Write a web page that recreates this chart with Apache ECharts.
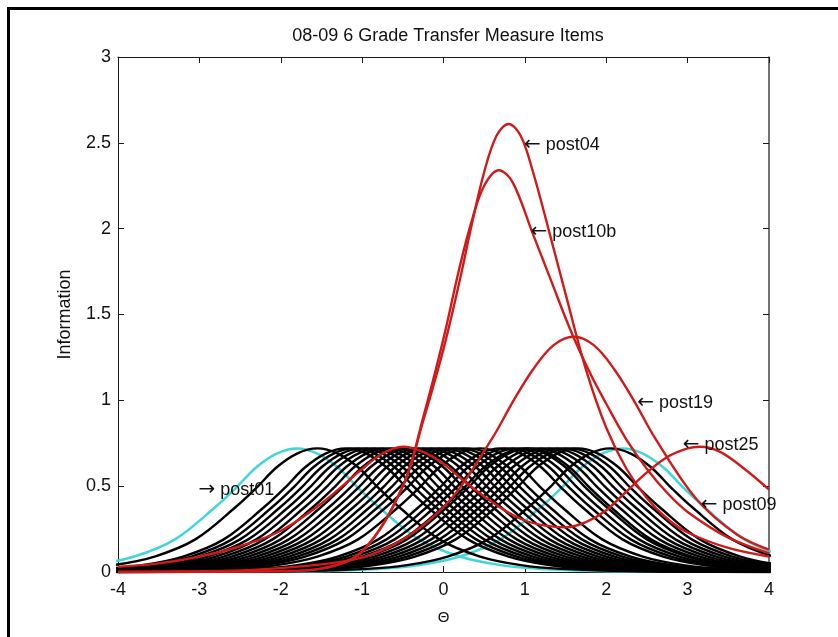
<!DOCTYPE html>
<html>
<head>
<meta charset="utf-8">
<script src="https://cdn.jsdelivr.net/npm/echarts/dist/echarts.min.js"></script>
<style>
html,body{margin:0;padding:0;background:#fff;}
#chart{width:838px;height:637px;}
</style>
</head>
<body>
<div id="chart"></div>
<script>
// ---- Axis ticks ----
const xTicks = [-4, -3, -2, -1, 0, 1, 2, 3, 4];
const yTicks = [0, 0.5, 1, 1.5, 2, 2.5, 3];

// ---- Item information curves, [theta, information] ----
// black items
const black01 = [[-4.05,0.04],[-3.55,0.09],[-3.05,0.19],[-2.55,0.38],[-2.3,0.49],[-2.05,0.61],[-1.8,0.69],[-1.55,0.72],[-1.3,0.69],[-1.05,0.61],[-0.8,0.49],[-0.55,0.38],[-0.05,0.19],[0.45,0.09],[0.95,0.04],[1.45,0.018],[2.45,0.003],[4,0]];
const black02 = [[-4.2,0.018],[-3.7,0.04],[-3.2,0.09],[-2.7,0.19],[-2.2,0.38],[-1.95,0.49],[-1.7,0.61],[-1.45,0.69],[-1.2,0.72],[-0.95,0.69],[-0.7,0.61],[-0.45,0.49],[-0.2,0.38],[0.3,0.19],[0.8,0.09],[1.3,0.04],[1.8,0.018],[2.8,0.003],[4.3,0]];
const black03 = [[-4.1,0.018],[-3.6,0.04],[-3.1,0.09],[-2.6,0.19],[-2.1,0.38],[-1.85,0.49],[-1.6,0.61],[-1.35,0.69],[-1.1,0.72],[-0.85,0.69],[-0.6,0.61],[-0.35,0.49],[-0.1,0.38],[0.4,0.19],[0.9,0.09],[1.4,0.04],[1.9,0.018],[2.9,0.003],[4.4,0]];
const black04 = [[-4,0.018],[-3.5,0.04],[-3,0.09],[-2.5,0.19],[-2,0.38],[-1.75,0.49],[-1.5,0.61],[-1.25,0.69],[-1,0.72],[-0.75,0.69],[-0.5,0.61],[-0.25,0.49],[0,0.38],[0.5,0.19],[1,0.09],[1.5,0.04],[2,0.018],[3,0.003],[4.5,0]];
const black05 = [[-4.9,0.003],[-3.9,0.018],[-3.4,0.04],[-2.9,0.09],[-2.4,0.19],[-1.9,0.38],[-1.65,0.49],[-1.4,0.61],[-1.15,0.69],[-0.9,0.72],[-0.65,0.69],[-0.4,0.61],[-0.15,0.49],[0.1,0.38],[0.6,0.19],[1.1,0.09],[1.6,0.04],[2.1,0.018],[3.1,0.003],[4.6,0]];
const black06 = [[-4.8,0.003],[-3.8,0.018],[-3.3,0.04],[-2.8,0.09],[-2.3,0.19],[-1.8,0.38],[-1.55,0.49],[-1.3,0.61],[-1.05,0.69],[-0.8,0.72],[-0.55,0.69],[-0.3,0.61],[-0.05,0.49],[0.2,0.38],[0.7,0.19],[1.2,0.09],[1.7,0.04],[2.2,0.018],[3.2,0.003],[4.7,0]];
const black07 = [[-4.7,0.003],[-3.7,0.018],[-3.2,0.04],[-2.7,0.09],[-2.2,0.19],[-1.7,0.38],[-1.45,0.49],[-1.2,0.61],[-0.95,0.69],[-0.7,0.72],[-0.45,0.69],[-0.2,0.61],[0.05,0.49],[0.3,0.38],[0.8,0.19],[1.3,0.09],[1.8,0.04],[2.3,0.018],[3.3,0.003],[4.8,0]];
const black08 = [[-4.6,0.003],[-3.6,0.018],[-3.1,0.04],[-2.6,0.09],[-2.1,0.19],[-1.6,0.38],[-1.35,0.49],[-1.1,0.61],[-0.85,0.69],[-0.6,0.72],[-0.35,0.69],[-0.1,0.61],[0.15,0.49],[0.4,0.38],[0.9,0.19],[1.4,0.09],[1.9,0.04],[2.4,0.018],[3.4,0.003],[4.9,0]];
const black09 = [[-4.5,0.003],[-3.5,0.018],[-3,0.04],[-2.5,0.09],[-2,0.19],[-1.5,0.38],[-1.25,0.49],[-1,0.61],[-0.75,0.69],[-0.5,0.72],[-0.25,0.69],[0,0.61],[0.25,0.49],[0.5,0.38],[1,0.19],[1.5,0.09],[2,0.04],[2.5,0.018],[3.5,0.003],[5,0]];
const black10 = [[-4.4,0.003],[-3.4,0.018],[-2.9,0.04],[-2.4,0.09],[-1.9,0.19],[-1.4,0.38],[-1.15,0.49],[-0.9,0.61],[-0.65,0.69],[-0.4,0.72],[-0.15,0.69],[0.1,0.61],[0.35,0.49],[0.6,0.38],[1.1,0.19],[1.6,0.09],[2.1,0.04],[2.6,0.018],[3.6,0.003],[5.1,0]];
const black11 = [[-4.3,0.003],[-3.3,0.018],[-2.8,0.04],[-2.3,0.09],[-1.8,0.19],[-1.3,0.38],[-1.05,0.49],[-0.8,0.61],[-0.55,0.69],[-0.3,0.72],[-0.05,0.69],[0.2,0.61],[0.45,0.49],[0.7,0.38],[1.2,0.19],[1.7,0.09],[2.2,0.04],[2.7,0.018],[3.7,0.003],[5.2,0]];
const black12 = [[-4.2,0.003],[-3.2,0.018],[-2.7,0.04],[-2.2,0.09],[-1.7,0.19],[-1.2,0.38],[-0.95,0.49],[-0.7,0.61],[-0.45,0.69],[-0.2,0.72],[0.05,0.69],[0.3,0.61],[0.55,0.49],[0.8,0.38],[1.3,0.19],[1.8,0.09],[2.3,0.04],[2.8,0.018],[3.8,0.003],[5.3,0]];
const black13 = [[-4.1,0.003],[-3.1,0.018],[-2.6,0.04],[-2.1,0.09],[-1.6,0.19],[-1.1,0.38],[-0.85,0.49],[-0.6,0.61],[-0.35,0.69],[-0.1,0.72],[0.15,0.69],[0.4,0.61],[0.65,0.49],[0.9,0.38],[1.4,0.19],[1.9,0.09],[2.4,0.04],[2.9,0.018],[3.9,0.003],[5.4,0]];
const black14 = [[-4,0.003],[-3,0.018],[-2.5,0.04],[-2,0.09],[-1.5,0.19],[-1,0.38],[-0.75,0.49],[-0.5,0.61],[-0.25,0.69],[0,0.72],[0.25,0.69],[0.5,0.61],[0.75,0.49],[1,0.38],[1.5,0.19],[2,0.09],[2.5,0.04],[3,0.018],[4,0.003]];
const black15 = [[-5.4,0],[-3.9,0.003],[-2.9,0.018],[-2.4,0.04],[-1.9,0.09],[-1.4,0.19],[-0.9,0.38],[-0.65,0.49],[-0.4,0.61],[-0.15,0.69],[0.1,0.72],[0.35,0.69],[0.6,0.61],[0.85,0.49],[1.1,0.38],[1.6,0.19],[2.1,0.09],[2.6,0.04],[3.1,0.018],[4.1,0.003]];
const black16 = [[-5.3,0],[-3.8,0.003],[-2.8,0.018],[-2.3,0.04],[-1.8,0.09],[-1.3,0.19],[-0.8,0.38],[-0.55,0.49],[-0.3,0.61],[-0.05,0.69],[0.2,0.72],[0.45,0.69],[0.7,0.61],[0.95,0.49],[1.2,0.38],[1.7,0.19],[2.2,0.09],[2.7,0.04],[3.2,0.018],[4.2,0.003]];
const black17 = [[-5.2,0],[-3.7,0.003],[-2.7,0.018],[-2.2,0.04],[-1.7,0.09],[-1.2,0.19],[-0.7,0.38],[-0.45,0.49],[-0.2,0.61],[0.05,0.69],[0.3,0.72],[0.55,0.69],[0.8,0.61],[1.05,0.49],[1.3,0.38],[1.8,0.19],[2.3,0.09],[2.8,0.04],[3.3,0.018],[4.3,0.003]];
const black18 = [[-5.05,0],[-3.55,0.003],[-2.55,0.018],[-2.05,0.04],[-1.55,0.09],[-1.05,0.19],[-0.55,0.38],[-0.3,0.49],[-0.05,0.61],[0.2,0.69],[0.45,0.72],[0.7,0.69],[0.95,0.61],[1.2,0.49],[1.45,0.38],[1.95,0.19],[2.45,0.09],[2.95,0.04],[3.45,0.018],[4.45,0.003]];
const black19 = [[-4.8,0],[-3.3,0.003],[-2.3,0.018],[-1.8,0.04],[-1.3,0.09],[-0.8,0.19],[-0.3,0.38],[-0.05,0.49],[0.2,0.61],[0.45,0.69],[0.7,0.72],[0.95,0.69],[1.2,0.61],[1.45,0.49],[1.7,0.38],[2.2,0.19],[2.7,0.09],[3.2,0.04],[3.7,0.018],[4.7,0.003]];
const black20 = [[-4.7,0],[-3.2,0.003],[-2.2,0.018],[-1.7,0.04],[-1.2,0.09],[-0.7,0.19],[-0.2,0.38],[0.05,0.49],[0.3,0.61],[0.55,0.69],[0.8,0.72],[1.05,0.69],[1.3,0.61],[1.55,0.49],[1.8,0.38],[2.3,0.19],[2.8,0.09],[3.3,0.04],[3.8,0.018],[4.8,0.003]];
const black21 = [[-4.6,0],[-3.1,0.003],[-2.1,0.018],[-1.6,0.04],[-1.1,0.09],[-0.6,0.19],[-0.1,0.38],[0.15,0.49],[0.4,0.61],[0.65,0.69],[0.9,0.72],[1.15,0.69],[1.4,0.61],[1.65,0.49],[1.9,0.38],[2.4,0.19],[2.9,0.09],[3.4,0.04],[3.9,0.018],[4.9,0.003]];
const black22 = [[-4.5,0],[-3,0.003],[-2,0.018],[-1.5,0.04],[-1,0.09],[-0.5,0.19],[0,0.38],[0.25,0.49],[0.5,0.61],[0.75,0.69],[1,0.72],[1.25,0.69],[1.5,0.61],[1.75,0.49],[2,0.38],[2.5,0.19],[3,0.09],[3.5,0.04],[4,0.018]];
const black23 = [[-4.45,0],[-2.95,0.003],[-1.95,0.018],[-1.45,0.04],[-0.95,0.09],[-0.45,0.19],[0.05,0.38],[0.3,0.49],[0.55,0.61],[0.8,0.69],[1.05,0.72],[1.3,0.69],[1.55,0.61],[1.8,0.49],[2.05,0.38],[2.55,0.19],[3.05,0.09],[3.55,0.04],[4.05,0.018]];
const black24 = [[-4.35,0],[-2.85,0.003],[-1.85,0.018],[-1.35,0.04],[-0.85,0.09],[-0.35,0.19],[0.15,0.38],[0.4,0.49],[0.65,0.61],[0.9,0.69],[1.15,0.72],[1.4,0.69],[1.65,0.61],[1.9,0.49],[2.15,0.38],[2.65,0.19],[3.15,0.09],[3.65,0.04],[4.15,0.018]];
const black25 = [[-4.25,0],[-2.75,0.003],[-1.75,0.018],[-1.25,0.04],[-0.75,0.09],[-0.25,0.19],[0.25,0.38],[0.5,0.49],[0.75,0.61],[1,0.69],[1.25,0.72],[1.5,0.69],[1.75,0.61],[2,0.49],[2.25,0.38],[2.75,0.19],[3.25,0.09],[3.75,0.04],[4.25,0.018]];
const black26 = [[-4.15,0],[-2.65,0.003],[-1.65,0.018],[-1.15,0.04],[-0.65,0.09],[-0.15,0.19],[0.35,0.38],[0.6,0.49],[0.85,0.61],[1.1,0.69],[1.35,0.72],[1.6,0.69],[1.85,0.61],[2.1,0.49],[2.35,0.38],[2.85,0.19],[3.35,0.09],[3.85,0.04],[4.35,0.018]];
const black27 = [[-4.05,0],[-2.55,0.003],[-1.55,0.018],[-1.05,0.04],[-0.55,0.09],[-0.05,0.19],[0.45,0.38],[0.7,0.49],[0.95,0.61],[1.2,0.69],[1.45,0.72],[1.7,0.69],[1.95,0.61],[2.2,0.49],[2.45,0.38],[2.95,0.19],[3.45,0.09],[3.95,0.04],[4.45,0.018]];
const black28 = [[-4,0],[-2.45,0.003],[-1.45,0.018],[-0.95,0.04],[-0.45,0.09],[0.05,0.19],[0.55,0.38],[0.8,0.49],[1.05,0.61],[1.3,0.69],[1.55,0.72],[1.8,0.69],[2.05,0.61],[2.3,0.49],[2.55,0.38],[3.05,0.19],[3.55,0.09],[4.05,0.04]];
const black29 = [[-4,0],[-2.35,0.003],[-1.35,0.018],[-0.85,0.04],[-0.35,0.09],[0.15,0.19],[0.65,0.38],[0.9,0.49],[1.15,0.61],[1.4,0.69],[1.65,0.72],[1.9,0.69],[2.15,0.61],[2.4,0.49],[2.65,0.38],[3.15,0.19],[3.65,0.09],[4.15,0.04]];
const black30 = [[-4,0],[-1.95,0.003],[-0.95,0.018],[-0.45,0.04],[0.05,0.09],[0.55,0.19],[1.05,0.38],[1.3,0.49],[1.55,0.61],[1.8,0.69],[2.05,0.72],[2.3,0.69],[2.55,0.61],[2.8,0.49],[3.05,0.38],[3.55,0.19],[4.05,0.09]];

// cyan items
const post01 = [[-4.3,0.04],[-3.8,0.09],[-3.3,0.19],[-2.8,0.38],[-2.55,0.49],[-2.3,0.61],[-2.05,0.69],[-1.8,0.72],[-1.55,0.69],[-1.3,0.61],[-1.05,0.49],[-0.8,0.38],[-0.3,0.19],[0.2,0.09],[0.7,0.04],[1.2,0.018],[2.2,0.003],[4,0]];
const post09 = [[-4,0],[-1.8,0.003],[-0.8,0.018],[-0.3,0.04],[0.2,0.09],[0.7,0.19],[1.2,0.38],[1.45,0.49],[1.7,0.61],[1.95,0.69],[2.2,0.72],[2.45,0.69],[2.7,0.61],[2.95,0.49],[3.2,0.38],[3.7,0.19],[4.2,0.09]];

// red items
const post04 = [[-4,0],[-2,0.005],[-1.5,0.02],[-1,0.12],[-0.5,0.5],[-0.25,0.88],[0,1.3],[0.2,1.7],[0.35,2.03],[0.5,2.33],[0.65,2.54],[0.8,2.61],[0.95,2.54],[1.1,2.33],[1.3,1.98],[1.5,1.62],[1.75,1.18],[2,0.84],[2.25,0.6],[2.5,0.43],[2.75,0.31],[3,0.23],[3.5,0.14],[4,0.09]];
const post10b = [[-4,0],[-2,0.005],[-1.5,0.02],[-1,0.12],[-0.5,0.5],[-0.25,0.9],[0,1.36],[0.2,1.78],[0.35,2.05],[0.5,2.25],[0.68,2.34],[0.85,2.27],[1.09,1.98],[1.32,1.7],[1.56,1.41],[1.81,1.15],[2,0.98],[2.25,0.77],[2.5,0.6],[2.75,0.46],[3,0.35],[3.5,0.2],[4,0.11]];
const post19 = [[-4,0.001],[-3,0.004],[-2.4,0.01],[-1.4,0.05],[-0.9,0.1],[-0.4,0.22],[0.1,0.43],[0.6,0.78],[0.85,0.99],[1.1,1.18],[1.35,1.32],[1.6,1.37],[1.85,1.32],[2.1,1.18],[2.35,0.99],[2.6,0.78],[3.1,0.43],[3.6,0.22],[4,0.13]];
const post25 = [[-4,0.03],[-3.5,0.05],[-3,0.09],[-2.5,0.15],[-2,0.24],[-1.5,0.4],[-1,0.6],[-0.75,0.69],[-0.5,0.73],[-0.25,0.7],[0,0.63],[0.25,0.53],[0.5,0.44],[0.75,0.36],[1,0.3],[1.25,0.27],[1.5,0.26],[1.75,0.29],[2,0.36],[2.25,0.47],[2.5,0.58],[2.75,0.67],[3,0.72],[3.15,0.73],[3.4,0.7],[3.7,0.6],[4,0.48]];

const blackCurves = [black01,black02,black03,black04,black05,black06,black07,black08,black09,black10,
  black11,black12,black13,black14,black15,black16,black17,black18,black19,black20,
  black21,black22,black23,black24,black25,black26,black27,black28,black29,black30];
const cyanCurves = [post01, post09];
const redCurves = [post04, post10b, post19, post25];

// ---- Text annotations (anchor in data coordinates) ----
const noteArrow = ['\u2190', '\u2190', '\u2190', '\u2190', '\u2190', '\u2192'];
const noteText  = ['post04', 'post10b', 'post19', 'post25', 'post09', 'post01'];
const noteTheta = [0.99, 1.07, 2.38, 2.94, 3.16, -3.01];
const noteInfo  = [2.49, 1.98, 0.985, 0.74, 0.39, 0.48];

const FONT = "'Liberation Sans', Arial, Helvetica, sans-serif";

function lineSeries(data, color, width) {
  return {
    type: 'line', data: data, showSymbol: false, symbol: 'none',
    smooth: 0.35, clip: true, silent: true, animation: false,
    lineStyle: { color: color, width: width }, itemStyle: { color: color },
    xAxisIndex: 0, yAxisIndex: 0
  };
}

const series = [];
cyanCurves.forEach(d => series.push(lineSeries(d, '#3fd7d7', 2.5)));
blackCurves.forEach(d => series.push(lineSeries(d, '#000000', 2.4)));
redCurves.forEach(d => series.push(lineSeries(d, '#d01a1a', 2.4)));

const axisLineStyle = { color: '#1a1a1a', width: 1 };
const chart = echarts.init(document.getElementById('chart'));
chart.setOption({
  animation: false,
  backgroundColor: '#ffffff',
  title: {
    text: '08-09 6 Grade Transfer Measure Items',
    left: 443, top: 22, textAlign: 'center',
    textStyle: { fontFamily: FONT, fontSize: 18, fontWeight: 'normal', color: '#111' }
  },
  grid: { left: 118, right: 69, top: 57, bottom: 65, containLabel: false },
  xAxis: [{
    type: 'value', min: xTicks[0], max: xTicks[xTicks.length - 1], interval: xTicks[1] - xTicks[0],
    position: 'bottom',
    name: '\u0398', nameLocation: 'middle', nameGap: 38,
    nameTextStyle: { fontFamily: FONT, fontSize: 15, color: '#111' },
    axisLine: { show: true, onZero: false, lineStyle: axisLineStyle },
    axisTick: { show: true, inside: true, length: 6, lineStyle: axisLineStyle },
    axisLabel: { fontFamily: FONT, fontSize: 18, color: '#111', margin: 9 },
    splitLine: { show: false }
  }, {
    type: 'value', min: xTicks[0], max: xTicks[xTicks.length - 1], interval: xTicks[1] - xTicks[0],
    position: 'top',
    axisLine: { show: true, onZero: false, lineStyle: axisLineStyle },
    axisTick: { show: true, inside: true, length: 6, lineStyle: axisLineStyle },
    axisLabel: { show: false }, splitLine: { show: false }
  }],
  yAxis: [{
    type: 'value', min: yTicks[0], max: yTicks[yTicks.length - 1], interval: yTicks[1] - yTicks[0],
    position: 'left',
    name: 'Information', nameLocation: 'middle', nameGap: 44,
    nameTextStyle: { fontFamily: FONT, fontSize: 18, color: '#111' },
    axisLine: { show: true, onZero: false, lineStyle: axisLineStyle },
    axisTick: { show: true, inside: true, length: 6, lineStyle: axisLineStyle },
    axisLabel: { fontFamily: FONT, fontSize: 18, color: '#111', margin: 7 },
    splitLine: { show: false }
  }, {
    type: 'value', min: yTicks[0], max: yTicks[yTicks.length - 1], interval: yTicks[1] - yTicks[0],
    position: 'right',
    axisLine: { show: true, onZero: false, lineStyle: { color: '#444', width: 1.5 } },
    axisTick: { show: true, inside: true, length: 6, lineStyle: axisLineStyle },
    axisLabel: { show: false }, splitLine: { show: false }
  }],
  series: series
});

// annotations + outer frame
const graphics = [{
  type: 'rect', silent: true, z: 100,
  shape: { x: 8.5, y: 8.5, width: 900, height: 700 },
  style: { fill: null, stroke: '#000', lineWidth: 3 }
}];
noteText.forEach((t, i) => {
  const p = chart.convertToPixel({ gridIndex: 0 }, [noteTheta[i], noteInfo[i]]);
  graphics.push({
    type: 'text', silent: true, z: 50, x: p[0], y: p[1],
    style: {
      text: '{a|' + noteArrow[i] + '} ' + t,
      fontFamily: FONT, fontSize: 18, fill: '#111', textAlign: 'left', textVerticalAlign: 'middle',
      rich: { a: { fontFamily: "'DejaVu Sans'", fontSize: 20, fill: '#111' } }
    }
  });
});
chart.setOption({ graphic: graphics });
</script>
</body>
</html>
